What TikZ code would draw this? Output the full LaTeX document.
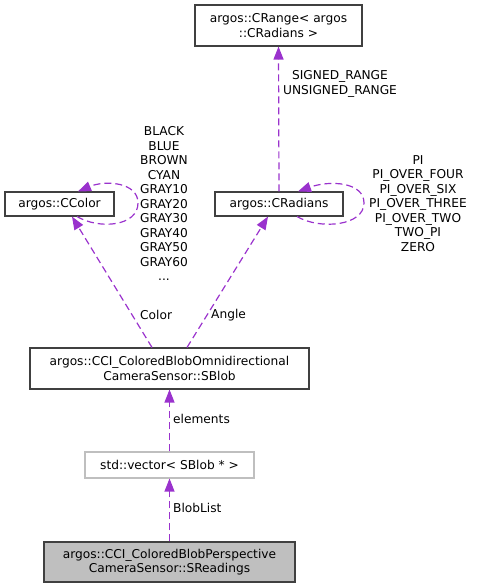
\documentclass[tikz,border=0pt]{standalone}
\usepackage{fontspec}
\setmainfont{DejaVu Sans}
\usetikzlibrary{arrows.meta,calc}
\definecolor{edgecol}{HTML}{9A32CD}
\definecolor{boxline}{HTML}{404040}
\definecolor{grayfill}{HTML}{BFBFBF}
\begin{document}
\begin{tikzpicture}[x=1pt,y=-1pt,
  every node/.style={font=\fontsize{12.2}{14.5}\selectfont, inner sep=0pt},
  cls/.style={draw=boxline, line width=1.1pt, fill=white, align=center},
  ext/.style={draw=grayfill, line width=1.1pt, fill=white, align=center},
  cur/.style={draw=boxline, line width=1.1pt, fill=grayfill, align=center},
  edge/.style={color=edgecol, line width=1.2pt, dash pattern=on 7pt off 4pt, -{Triangle[length=13pt,width=10pt,sep=0pt]}},
  lbl/.style={align=center, text=black}
]
\useasboundingbox (0,0) rectangle (477,588);
% nodes
\node[cls, minimum width=167pt, minimum height=41pt] (range) at (278.5,25.5) {argos::CRange\textless{} argos\\::CRadians \textgreater};
\node[cls, minimum width=109pt, minimum height=24pt] (color) at (59.5,204) {argos::CColor};
\node[cls, minimum width=128pt, minimum height=24pt] (rad) at (279,204) {argos::CRadians};
\node[cls, minimum width=279pt, minimum height=41pt] (sblob) at (169.5,368.5) {argos::CCI\_ColoredBlobOmnidirectional\\CameraSensor::SBlob};
\node[ext, minimum width=169pt, minimum height=26pt] (vec) at (169.5,465) {std::vector\textless{} SBlob * \textgreater};
\node[cur, minimum width=251pt, minimum height=40pt] (read) at (169.5,562) {argos::CCI\_ColoredBlobPerspective\\CameraSensor::SReadings};
% edges
\draw[edge] (rad.north) -- (range.south);
\draw[edge] ($(sblob.north)+(-17.5,0)$) -- ($(color.south)+(12.5,0)$);
\draw[edge] ($(sblob.north)+(17.5,0)$) -- ($(rad.south)+(-11,0)$);
\draw[edge] (vec.north) -- (sblob.south);
\draw[edge] (read.north) -- (vec.south);
% self loops
\coordinate (cl1) at ($(color.south)+(17.5,0)$);
\coordinate (cl2) at ($(color.north)+(18.5,0)$);
\draw[edge] (cl1) .. controls (100,230) and (138,226) .. (138,203) .. controls (138,182) and (105,180) .. (cl2);
\coordinate (rl1) at ($(rad.south)+(18,0)$);
\coordinate (rl2) at ($(rad.north)+(19,0)$);
\draw[edge] (rl1) .. controls (320,230) and (364,226) .. (364,203) .. controls (364,182) and (330,180) .. (rl2);
% labels
\node[lbl] (lrange) at (340,84) {SIGNED\_RANGE\\UNSIGNED\_RANGE};
\node[lbl] (lcolorloop) at (164,203.5) {BLACK\\BLUE\\BROWN\\CYAN\\GRAY10\\GRAY20\\GRAY30\\GRAY40\\GRAY50\\GRAY60\\...};
\node[lbl] (lradloop) at (418,203.5) {PI\\PI\_OVER\_FOUR\\PI\_OVER\_SIX\\PI\_OVER\_THREE\\PI\_OVER\_TWO\\TWO\_PI\\ZERO};
\node[lbl, anchor=west] (lcolor) at (140,315) {Color};
\node[lbl, anchor=west] (langle) at (211,315) {Angle};
\node[lbl, anchor=west] (lelem) at (173,419) {elements};
\node[lbl, anchor=west] (lblob) at (173,508) {BlobList};
\end{tikzpicture}
\end{document}
